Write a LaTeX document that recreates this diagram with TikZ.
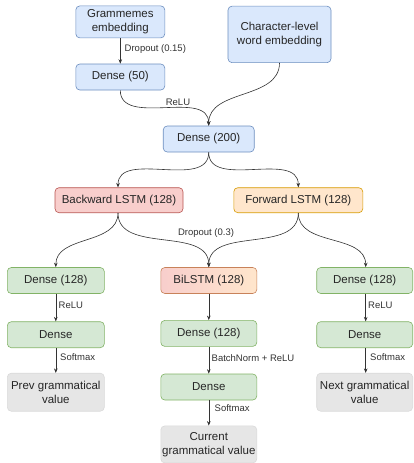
\documentclass[tikz,border=0pt]{standalone}
\usepackage{fontspec}
\setmainfont{Liberation Sans}
\usetikzlibrary{arrows.meta}
\definecolor{bfill}{HTML}{DAE8FC}\definecolor{bline}{HTML}{6C8EBF}
\definecolor{rfill}{HTML}{F8CECC}\definecolor{rline}{HTML}{B85450}
\definecolor{ofill}{HTML}{FFE6CC}\definecolor{oline}{HTML}{D79B00}
\definecolor{gfill}{HTML}{D5E8D4}\definecolor{gline}{HTML}{82B366}
\definecolor{kfill}{HTML}{E6E6E6}\definecolor{kline}{HTML}{DADADA}
\definecolor{edge}{HTML}{333333}
\begin{document}
\begin{tikzpicture}[x=1pt,y=-1pt,
  box/.style={rounded corners=4pt,inner sep=0pt,align=center,font=\fontsize{11.5}{13.7}\selectfont,text=black!85,line width=0.6pt},
  bluebox/.style={box,fill=bfill,draw=bline},
  redbox/.style={box,fill=rfill,draw=rline},
  orangebox/.style={box,fill=ofill,draw=oline},
  greenbox/.style={box,fill=gfill,draw=gline},
  greybox/.style={box,fill=kfill,draw=kline},
  conn/.style={draw=edge,line width=0.6pt,-{Stealth[length=4.5pt,width=3.6pt]}},
  lbl/.style={font=\fontsize{9.5}{11}\selectfont,text=black!80,inner sep=0pt}]
\useasboundingbox (0,0) rectangle (413,463);
% top
\node[bluebox,minimum width=89pt,minimum height=32pt] (gram) at (120.3,21.9) {Grammemes\\embedding};
\node[bluebox,minimum width=103pt,minimum height=56.5pt] (char) at (279.5,34.4) {Character-level\\word embedding};
\node[bluebox,minimum width=89pt,minimum height=26pt] (d50) at (120.3,77) {Dense (50)};
\node[bluebox,minimum width=91pt,minimum height=26pt] (d200) at (208.7,139) {Dense (200)};
% LSTMs
\node[redbox,minimum width=128pt,minimum height=25pt] (back) at (119,200.2) {Backward LSTM (128)};
\node[orangebox,minimum width=129pt,minimum height=25pt] (fwd) at (298.3,200.2) {Forward LSTM (128)};
% row 3
\node[greenbox,minimum width=97pt,minimum height=26pt] (dl1) at (55.8,280.5) {Dense (128)};
\node[box,left color=rfill,right color=ofill,draw={rgb,255:red,200;green,130;blue,90},minimum width=96pt,minimum height=26pt] (bil) at (208.8,280.5) {BiLSTM (128)};
\node[greenbox,minimum width=96pt,minimum height=26pt] (dr1) at (364.7,280.5) {Dense (128)};
% row 4
\node[greenbox,minimum width=97pt,minimum height=26pt] (dl2) at (55.8,334.7) {Dense};
\node[greenbox,minimum width=96pt,minimum height=26pt] (dm1) at (208.8,333.4) {Dense (128)};
\node[greenbox,minimum width=96pt,minimum height=26pt] (dr2) at (364.7,334.7) {Dense};
% row 5
\node[greybox,minimum width=97pt,minimum height=38pt] (prev) at (55.8,392.2) {Prev grammatical\\value};
\node[greenbox,minimum width=96pt,minimum height=26pt] (dm2) at (208.8,387) {Dense};
\node[greybox,minimum width=96pt,minimum height=38pt] (next) at (364.7,392.2) {Next grammatical\\value};
\node[greybox,minimum width=96pt,minimum height=37pt] (cur) at (208.8,444.4) {Current\\grammatical value};
% connectors
\draw[conn] (gram) -- (d50);
\draw[conn] (d50.south) to[out=-90,in=90] (d200.north);
\draw[conn] (char.south) to[out=-90,in=90] (d200.north);
\draw[conn] (d200.south) to[out=-90,in=90] ([xshift=-1pt]back.north);
\draw[conn] (d200.south) to[out=-90,in=90] (fwd.north);
\draw[conn] ([xshift=-1pt]back.south) to[out=-90,in=90] (dl1.north);
\draw[conn] ([xshift=-1pt]back.south) to[out=-90,in=90] (bil.north);
\draw[conn] (fwd.south) to[out=-90,in=90] (bil.north);
\draw[conn] (fwd.south) to[out=-90,in=90] ([xshift=1pt]dr1.north);
\draw[conn] (dl1) -- (dl2);
\draw[conn] (dl2) -- (prev);
\draw[conn] (bil) -- (dm1);
\draw[conn] (dm1) -- (dm2);
\draw[conn] (dm2) -- (cur);
\draw[conn] ([xshift=1pt]dr1.south) -- ([xshift=1pt]dr2.north);
\draw[conn] ([xshift=1pt]dr2.south) -- ([xshift=1pt]next.north);
% labels
\node[lbl,anchor=west] (l1) at (124.5,49) {Dropout (0.15)};
\node[lbl] (l2) at (178,102.5) {ReLU};
\node[lbl] (l3) at (206,233.5) {Dropout (0.3)};
\node[lbl,anchor=west] (l4) at (58.5,305.5) {ReLU};
\node[lbl,anchor=west] (l5) at (60,357) {Softmax};
\node[lbl,anchor=west] (l6) at (211.5,358.5) {BatchNorm + ReLU};
\node[lbl,anchor=west] (l7) at (214.5,408.5) {Softmax};
\node[lbl,anchor=west] (l8) at (368,305.5) {ReLU};
\node[lbl,anchor=west] (l9) at (370,357) {Softmax};
\end{tikzpicture}
\end{document}
